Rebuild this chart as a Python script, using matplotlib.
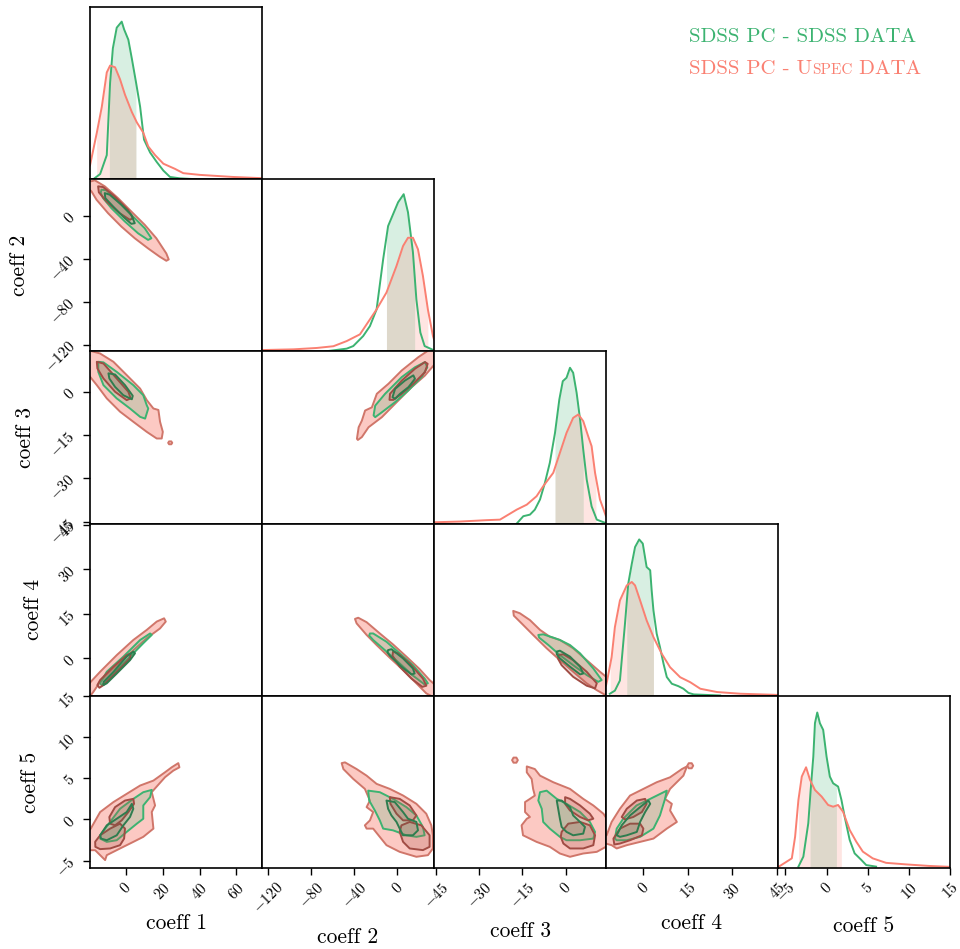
import numpy as np
import matplotlib
matplotlib.use("Agg")
import matplotlib.pyplot as plt
from matplotlib.patches import Polygon
from matplotlib.colors import to_rgba
from matplotlib.offsetbox import TextArea, HPacker, VPacker, AnchoredOffsetbox

plt.rcParams["font.family"] = "serif"
plt.rcParams["font.serif"] = ["cmr10"]
plt.rcParams["mathtext.fontset"] = "cm"
plt.rcParams["axes.formatter.use_mathtext"] = True

GREEN = "#3CB371"
RED = "#FA8072"

labels = ["coeff 1", "coeff 2", "coeff 3", "coeff 4", "coeff 5"]
limits = [(-19.4, 73.9), (-126, 34), (-45.7, 14.0), (-12.6, 45.4), (-5.9, 15.0)]
ticks = [[0, 20, 40, 60], [-120, -80, -40, 0], [-45, -30, -15, 0],
         [0, 15, 30, 45], [-5, 0, 5, 10, 15]]

# 1D marginals (x, relative height)
sdss_x1 = [-17.6, -13.9, -10.3, -8.5, -7.0, -4.9, -2.2, -0.9, 1.4, 3.3, 5.6, 7.8, 9.9, 13.2, 16.8, 20.4, 24.0, 29.4, 38.0]
sdss_h1 = [0.0, 0.03, 0.14, 0.56, 0.76, 0.88, 0.915, 0.87, 0.81, 0.70, 0.56, 0.42, 0.23, 0.155, 0.10, 0.05, 0.013, 0.005, 0.0]
uspec_x1 = [-19.4, -19.0, -15.7, -13.0, -10.3, -8.5, -5.8, -3.1, -0.4, 3.3, 6.0, 9.5, 12.2, 15.9, 20.4, 26.7, 31.2, 40.3, 58.2, 73.9]
uspec_h1 = [0.08, 0.10, 0.27, 0.42, 0.62, 0.66, 0.65, 0.58, 0.49, 0.39, 0.33, 0.27, 0.19, 0.14, 0.09, 0.06, 0.035, 0.025, 0.013, 0.006]

sdss_x2 = [-67.3, -47.2, -41.1, -31.9, -25.6, -19.4, -13.3, -8.7, -2.5, 0.6, 5.8, 9.8, 14.4, 17.6, 21.3, 25.3, 32.7]
sdss_h2 = [0.0, 0.016, 0.031, 0.089, 0.147, 0.244, 0.535, 0.728, 0.82, 0.866, 0.913, 0.808, 0.576, 0.302, 0.11, 0.031, 0.01]
uspec_x2 = [-126, -124.4, -96.7, -75, -59.6, -47.2, -34.9, -28.7, -19.4, -10.2, -0.9, 5.2, 9.8, 14.4, 19.1, 23.7, 28.3, 33.0, 34.0]
uspec_h2 = [0.008, 0.008, 0.012, 0.02, 0.03, 0.06, 0.099, 0.157, 0.244, 0.342, 0.496, 0.612, 0.66, 0.66, 0.593, 0.438, 0.244, 0.09, 0.07]

sdss_x3 = [-17.0, -14.7, -12.4, -10.7, -8.9, -7.2, -5.5, -3.7, -2.2, -1.0, 0.3, 1.5, 2.6, 3.8, 5.0, 6.1, 7.3, 9.0, 10.8, 13.6]
sdss_h3 = [0.0, 0.043, 0.052, 0.081, 0.14, 0.237, 0.353, 0.527, 0.721, 0.827, 0.847, 0.905, 0.876, 0.76, 0.605, 0.43, 0.256, 0.1, 0.023, 0.005]
uspec_x3 = [-45.7, -45.0, -36.7, -27.4, -22.8, -19.3, -17.0, -13.5, -10.1, -7.8, -4.3, -2.0, 0.3, 2.6, 4.4, 6.1, 7.8, 9.0, 10.2, 11.9, 14.0]
uspec_h3 = [0.008, 0.008, 0.012, 0.02, 0.023, 0.058, 0.081, 0.11, 0.159, 0.217, 0.295, 0.411, 0.527, 0.614, 0.634, 0.595, 0.508, 0.45, 0.295, 0.14, 0.043]

sdss_x4 = [-11.3, -9.6, -7.9, -6.2, -5.1, -3.9, -2.8, -1.4, -0.2, 1.1, 2.3, 2.8, 3.4, 4.5, 5.6, 6.8, 7.9, 9.6, 11.8, 13.5, 15.2, 17.0, 25.9]
sdss_h4 = [0.012, 0.03, 0.089, 0.419, 0.651, 0.767, 0.864, 0.908, 0.884, 0.748, 0.729, 0.612, 0.496, 0.36, 0.283, 0.186, 0.109, 0.07, 0.056, 0.041, 0.017, 0.008, 0.002]
uspec_x4 = [-12.6, -12.2, -10.7, -9.6, -7.9, -5.6, -3.9, -2.8, -1.1, 1.1, 3.4, 6.2, 9.0, 12.4, 15.8, 19.2, 24.8, 32.7, 43.9, 45.4]
uspec_h4 = [0.06, 0.089, 0.225, 0.399, 0.554, 0.641, 0.661, 0.641, 0.554, 0.438, 0.341, 0.244, 0.166, 0.108, 0.079, 0.041, 0.022, 0.012, 0.006, 0.005]

sdss_x5 = [-3.42, -2.82, -2.22, -1.93, -1.61, -1.41, -1.13, -0.81, -0.41, 0.0, 0.40, 0.80, 1.40, 1.81, 2.20, 2.81, 3.41, 4.22, 4.82, 6.02]
sdss_h5 = [0.008, 0.066, 0.26, 0.453, 0.647, 0.841, 0.903, 0.841, 0.802, 0.647, 0.531, 0.492, 0.473, 0.395, 0.298, 0.163, 0.085, 0.047, 0.017, 0.008]
uspec_x5 = [-5.9, -5.63, -4.22, -3.82, -3.42, -3.01, -2.49, -2.01, -1.41, -0.60, 0.19, 0.80, 1.40, 2.00, 2.81, 3.61, 4.41, 5.61, 7.23, 9.64, 12.45, 14.86]
uspec_h5 = [0.005, 0.013, 0.056, 0.182, 0.395, 0.531, 0.585, 0.512, 0.453, 0.415, 0.366, 0.356, 0.366, 0.327, 0.221, 0.153, 0.095, 0.056, 0.03, 0.021, 0.012, 0.007]

# shaded summary intervals on the marginals
sdss_band = [(-8.9, 5.5), (-10.2, 16.0), (-3.7, 6.1), (-5.6, 3.4), (-2.0, 1.2)]
uspec_band = [(-15.8, 5.5), (-10.2, 28.3), (-3.7, 10.5), (-11.2, 3.4), (-3.4, 1.8)]

# 2D contours, vertices in data units (x param, y param)
uspec_outer_12 = [[(-21, 33.5), (-18.6, 32.1), (-16.8, 33.0), (-11.4, 27.4), (-4.2, 16.4), (3.0, 4.0), (10.3, -8.4), (16.6, -20.9), (22.0, -35.0), (23.3, -40.6), (22.0, -41.8), (18.4, -38.0), (12.1, -30.3), (4.9, -20.9), (-2.4, -10.0), (-9.6, 2.4), (-15.9, 15.0), (-18.6, 22.7), (-21, 26)]]
sdss_outer_12 = [[(-13.2, 24.3), (-10.5, 23.6), (-4.2, 13.4), (3.0, 0.9), (10.3, -11.6), (13.9, -20.9), (12.1, -22.4), (6.7, -16.3), (-0.5, -5.3), (-7.8, 7.1), (-12.3, 16.4), (-13.6, 21.1)]]
uspec_inner_12 = [[(-15.0, 27.4), (-12.3, 26.7), (-6.0, 18.0), (1.2, 5.6), (4.0, -2.2), (2.2, -3.7), (-3.3, 2.4), (-10.5, 13.4), (-14.6, 21.8)]]
sdss_inner_12 = [[(-11.4, 21.1), (-8.7, 19.6), (-2.4, 10.3), (3.0, 0.9), (4.9, -6.9), (3.0, -7.5), (-1.5, -0.7), (-6.9, 8.7), (-11.1, 16.4)]]

uspec_outer_13 = [[(-21, 14.5), (-14.0, 13.3), (-6.7, 10.4), (0.5, 5.8), (7.8, 1.1), (11.4, -2.9), (15.0, -5.8), (17.7, -6.3), (18.6, -10.4), (20.1, -13.9), (19.5, -16.2), (16.8, -16.2), (11.4, -13.9), (4.1, -10.4), (-3.1, -6.9), (-10.3, -2.3), (-15.7, 2.3), (-21, 6.5)],
                  [(23.0, -17.7), (23.5, -17.2), (24.7, -17.2), (25.2, -17.7), (24.7, -18.2), (23.5, -18.2)]]
sdss_outer_13 = [[(-14.9, 10.4), (-12.1, 10.2), (-4.9, 6.9), (4.1, 2.3), (9.5, -1.2), (11.4, -4.7), (12.2, -5.8), (10.5, -9.3), (7.8, -8.7), (2.3, -5.8), (-4.9, -2.3), (-12.1, 2.3), (-14.9, 6.9)]]
uspec_inner_13 = [[(-15.7, 10.4), (-12.1, 9.8), (-4.9, 4.6), (1.4, 0.0), (2.7, -2.3), (0.5, -2.9), (-5.8, 0.0), (-12.1, 4.6), (-15.4, 8.1)]]
sdss_inner_13 = [[(-9.4, 6.4), (-5.8, 6.0), (-0.4, 2.3), (3.8, -1.4), (3.3, -2.6), (-1.3, -1.2), (-5.8, 1.7), (-8.9, 4.6)]]

uspec_outer_14 = [[(-21, -9.5), (-19.0, -7.9), (-13.9, -4.5), (-4.9, 1.1), (4.1, 6.2), (11.4, 9.6), (16.8, 12.4), (20.8, 13.5), (21.7, 12.4), (18.6, 10.1), (11.4, 6.8), (2.3, 1.7), (-6.7, -3.4), (-13.9, -7.9), (-17.6, -11.3), (-21, -14)]]
sdss_outer_14 = [[(-13.9, -8.4), (-10.3, -4.5), (-1.3, 0.6), (7.8, 6.2), (13.2, 8.4), (14.1, 7.9), (9.5, 5.1), (0.5, -0.6), (-8.5, -6.2), (-13.0, -9.0)]]
uspec_inner_14 = [[(-15.4, -9.0), (-13.9, -7.3), (-6.7, -2.8), (0.5, 1.1), (2.7, 1.7), (2.3, 0.0), (-4.9, -4.5), (-12.1, -9.0), (-14.3, -9.9)]]
sdss_inner_14 = [[(-12.1, -7.9), (-6.7, -4.5), (0.5, 0.6), (4.1, 2.3), (5.0, 1.7), (2.3, -0.6), (-4.9, -5.1), (-10.3, -8.4), (-12.1, -9.0)]]

uspec_outer_15 = [[(-21, -1.6), (-19.0, -1.12), (-13.9, 0.89), (-6.7, 2.10), (0.5, 3.10), (7.8, 4.11), (15.0, 4.71), (21.3, 5.72), (24.9, 6.32), (28.5, 6.83), (29.1, 6.32), (25.8, 5.92), (21.3, 5.12), (14.1, 3.31), (15.9, 1.69), (14.1, 0.89), (15.0, -1.12), (9.5, -2.12), (4.1, -2.73), (-3.1, -3.53), (-10.3, -4.34), (-11.2, -4.94), (-13.9, -4.34), (-16.6, -3.74), (-21, -3.74)]]
sdss_outer_15 = [[(-13.9, -1.93), (-8.5, -0.31), (-3.1, 1.29), (4.1, 2.49), (9.5, 3.30), (14.1, 3.58), (13.2, 2.70), (9.5, 1.69), (9.5, 0.08), (6.0, -0.52), (0.5, -1.52), (-4.9, -2.53), (-10.3, -2.73), (-13.9, -2.33)]]
uspec_inner_15 = [[(-8.9, 0.29), (-5.8, 1.49), (-0.4, 2.29), (4.1, 2.49), (4.5, 1.89), (1.4, 0.89), (-2.2, -0.12), (-5.8, -0.72), (-8.5, -0.52)],
                  [(-16.6, -2.72), (-13.9, -1.93), (-8.5, -1.12), (-3.1, -0.52), (-0.4, -1.12), (-0.9, -2.33), (-3.1, -3.13), (-8.5, -3.53), (-13.9, -3.61), (-16.5, -3.33)]]
sdss_inner_15 = [[(-13.9, -1.93), (-10.3, -0.72), (-4.9, 0.08), (0.5, 0.89), (3.3, 1.89), (4.1, 1.29), (2.3, 0.29), (-1.3, -0.72), (-4.9, -1.93), (-10.3, -2.53), (-13.4, -2.33)]]

uspec_outer_23 = [[(-37.7, -16.3), (-36.1, -12.3), (-33.1, -10.0), (-30.1, -6.5), (-23.8, -5.4), (-19.2, -0.7), (-8.3, 2.8), (4.0, 7.4), (19.4, 12.0), (28.6, 14.3), (35, 15), (35, 9.7), (25.5, 5.6), (13.2, 1.6), (-2.3, -4.2), (-14.5, -8.8), (-26.9, -12.3), (-33.1, -15.7), (-36.8, -16.7)]]
sdss_outer_23 = [[(-22.2, -8.2), (-20.7, -4.8), (-11.5, -0.7), (4.0, 5.1), (16.3, 8.5), (25.6, 10.3), (27.8, 8.5), (22.5, 5.1), (10.2, 0.5), (-2.2, -3.6), (-14.5, -7.1), (-20.7, -8.8)]]
uspec_inner_23 = [[(-7.4, -2.8), (-6.9, -0.7), (4.0, 3.9), (16.3, 8.0), (25.6, 10.3), (28.1, 9.7), (25.6, 6.8), (14.8, 2.8), (4.0, -0.7), (-3.7, -2.8)]]
sdss_inner_23 = [[(-4.6, -1.9), (-2.2, 1.0), (7.0, 3.9), (14.8, 5.7), (16.3, 4.5), (10.2, 1.6), (2.4, -0.7), (-2.2, -2.4)]]

uspec_outer_24 = [[(-39.5, 13.3), (-36.5, 13.7), (-28.7, 12.2), (-16.4, 8.4), (-4.1, 4.7), (8.3, 0.6), (20.6, -3.6), (29.9, -7.3), (36, -9.2), (36, -13.5), (26.9, -11.8), (17.6, -8.4), (5.2, -3.9), (-7.1, 0.2), (-19.4, 4.5), (-28.7, 7.9), (-38.0, 11.8)]]
sdss_outer_24 = [[(-25.6, 8.4), (-22.6, 8.4), (-10.2, 5.6), (2.1, 1.7), (14.4, -2.3), (25.3, -6.8), (28.3, -8.4), (25.3, -8.8), (14.4, -5.8), (2.1, -1.7), (-10.2, 2.3), (-22.6, 6.2), (-26.3, 7.7)]]
uspec_inner_24 = [[(-4.1, 2.3), (0.6, 1.7), (11.4, -1.7), (23.7, -6.8), (26.9, -9.2), (23.1, -9.6), (13.0, -6.8), (2.1, -2.8), (-4.6, 0.9)]]
sdss_inner_24 = [[(-8.7, 2.8), (-5.6, 3.1), (5.2, 0.0), (14.4, -3.4), (16.0, -5.1), (13.0, -5.4), (3.7, -2.8), (-7.1, 0.9), (-9.3, 2.0)]]

uspec_outer_25 = [[(-51.9, 6.83), (-48.8, 6.92), (-38.0, 6.11), (-28.7, 5.31), (-19.4, 4.31), (-7.1, 3.70), (5.2, 2.90), (17.6, 1.89), (26.8, 0.69), (31.5, -0.72), (33.0, -1.93), (33.0, -3.53), (28.4, -4.34), (17.6, -4.54), (2.1, -3.94), (-10.2, -3.13), (-16.4, -2.13), (-22.6, -1.12), (-28.7, -1.12), (-30.3, -0.72), (-25.6, -0.12), (-22.6, 0.89), (-28.7, 1.49), (-25.6, 2.29), (-30.3, 3.70), (-41.1, 4.91), (-50.3, 6.11)]]
sdss_outer_25 = [[(-27.2, 3.49), (-16.4, 3.30), (-4.1, 2.49), (8.3, 1.49), (17.6, 0.48), (23.7, -0.92), (25.3, -1.93), (17.6, -2.12), (8.3, -1.93), (-4.1, -1.33), (-13.3, -1.12), (-16.4, -0.12), (-21.0, 1.08), (-26.3, 2.29)]]
uspec_inner_25 = [[(-7.1, 2.70), (2.1, 2.49), (11.4, 1.69), (17.6, 0.48), (14.4, -0.12), (5.2, -0.12), (-0.9, 0.69), (-6.5, 1.89)],
                  [(3.7, -0.72), (11.4, -0.31), (22.2, -0.72), (29.9, -1.93), (29.9, -3.33), (23.7, -3.73), (11.4, -3.53), (5.2, -2.72), (2.1, -1.52)]]
sdss_inner_25 = [[(-10.2, 2.29), (-2.5, 2.10), (5.2, 0.89), (9.8, 0.08), (17.6, -0.31), (19.1, -1.33), (14.4, -1.93), (5.2, -1.93), (2.1, -1.12), (-0.9, -0.31), (-5.6, 0.48), (-8.7, 1.29)]]

uspec_outer_34 = [[(-18.2, 16.0), (-15.9, 15.2), (-12.4, 12.9), (-8.9, 9.6), (-5.5, 7.3), (-2.0, 6.2), (2.6, 3.4), (7.3, -0.6), (11.9, -4.5), (14.8, -6.8), (14.8, -12.9), (10.8, -10.7), (7.3, -8.4), (2.6, -4.5), (-2.0, -0.6), (-6.6, 3.4), (-11.3, 7.9), (-15.3, 11.8), (-18.0, 14.4)]]
sdss_outer_34 = [[(-9.5, 7.9), (-7.8, 8.1), (-4.3, 7.0), (-2.0, 6.2), (1.5, 4.5), (5.0, 1.7), (9.6, -3.4), (12.5, -7.3), (11.3, -7.9), (7.3, -5.6), (2.6, -2.3), (-2.0, 1.1), (-6.0, 4.5), (-9.2, 7.0)]]
uspec_inner_34 = [[(-2.6, 1.1), (-0.8, 1.4), (2.6, -0.6), (7.3, -4.5), (10.8, -8.4), (10.2, -10.1), (7.3, -9.2), (2.6, -6.2), (-1.4, -2.3), (-2.6, -0.2)]]
sdss_inner_34 = [[(-3.1, 2.3), (-2.0, 2.6), (1.5, 0.6), (5.0, -2.8), (6.1, -5.1), (5.0, -5.4), (1.5, -2.8), (-2.0, 0.0), (-3.1, 1.4)]]

uspec_outer_35 = [[(-13.5, 6.43), (-10.7, 6.11), (-8.9, 5.31), (-4.3, 4.51), (1.5, 3.70), (6.1, 2.49), (9.6, 1.69), (13.1, 0.69), (15, -0.31), (15, -3.13), (10.8, -3.94), (6.1, -4.14), (1.5, -4.54), (-2.0, -4.14), (-5.5, -3.33), (-10.1, -2.73), (-14.8, -1.93), (-15.3, -0.72), (-13.5, 0.08), (-12.4, 0.29), (-14.1, 0.89), (-14.1, 2.10), (-12.4, 2.49), (-10.7, 2.89), (-11.3, 3.70), (-11.8, 4.90), (-13.5, 5.71)],
                  [(-18.6, 7.19), (-18.1, 7.5), (-17.1, 7.5), (-16.6, 7.19), (-17.1, 6.88), (-18.1, 6.88)]]
sdss_outer_35 = [[(-8.9, 3.30), (-6.6, 3.49), (-3.1, 2.49), (0.3, 1.89), (5.0, 0.89), (8.4, -0.31), (10.2, -1.52), (9.6, -2.33), (5.0, -2.53), (0.3, -2.53), (-2.0, -2.12), (-5.5, -1.12), (-7.8, -0.31), (-8.3, 1.29), (-9.5, 2.29)]]
uspec_inner_35 = [[(-0.2, 2.70), (1.5, 2.49), (5.0, 1.69), (8.4, 0.69), (9.6, 0.08), (7.8, -0.12), (5.0, 0.29), (1.5, 1.08), (-0.2, 1.89)],
                  [(-1.4, -1.52), (0.9, -0.52), (5.0, -0.31), (8.4, -0.72), (10.2, -1.93), (9.6, -3.13), (6.1, -3.53), (1.5, -3.53), (-0.8, -2.93), (-1.7, -2.12)]]
sdss_inner_35 = [[(-3.1, 2.29), (-1.4, 2.29), (1.5, 1.49), (2.6, 0.48), (5.0, -0.31), (6.7, -0.92), (6.1, -1.73), (2.6, -1.93), (0.3, -1.52), (-1.4, -0.92), (-2.0, 0.08), (-2.6, 1.29)]]

uspec_outer_45 = [[(-13, -1.93), (-12.4, -1.93), (-10.7, -0.31), (-7.9, 1.29), (-4.5, 2.89), (0.0, 3.70), (4.5, 4.51), (9.0, 5.11), (13.0, 6.11), (14.7, 6.43), (13.5, 5.31), (9.0, 3.70), (7.3, 2.49), (9.6, 1.89), (9.0, 1.08), (11.3, -0.31), (7.9, -1.12), (3.4, -2.33), (-1.1, -2.73), (-5.6, -3.13), (-9.0, -3.53), (-10.7, -3.13), (-13, -2.9)],
                  [(14.8, 6.51), (15.3, 6.82), (16.3, 6.82), (16.8, 6.51), (16.3, 6.2), (15.3, 6.2)]]
sdss_outer_45 = [[(-9.6, -2.33), (-9.0, -1.12), (-6.8, 0.08), (-2.3, 1.69), (2.3, 2.49), (7.9, 3.49), (7.3, 2.49), (5.6, 0.48), (3.4, -1.12), (-1.1, -2.12), (-5.6, -2.53), (-9.0, -2.53)]]
uspec_inner_45 = [[(-7.3, 0.29), (-5.6, 1.29), (-2.2, 2.29), (0.6, 2.49), (1.1, 1.89), (-0.5, 0.89), (-3.4, 0.29), (-6.2, 0.0)],
                  [(-10.1, -2.33), (-7.9, -1.12), (-4.5, -0.52), (-1.1, -0.52), (0.0, -1.12), (-0.5, -1.93), (-4.5, -2.53), (-7.9, -2.93), (-9.8, -3.05)]]
sdss_inner_45 = [[(-9.0, -1.93), (-7.3, -0.72), (-4.5, 0.48), (-1.1, 1.49), (1.7, 2.29), (2.3, 1.89), (0.6, 0.89), (-1.1, -0.31), (-2.2, -1.52), (-5.6, -1.93), (-7.9, -2.12)]]

marginals = [
    (sdss_x1, sdss_h1, uspec_x1, uspec_h1),
    (sdss_x2, sdss_h2, uspec_x2, uspec_h2),
    (sdss_x3, sdss_h3, uspec_x3, uspec_h3),
    (sdss_x4, sdss_h4, uspec_x4, uspec_h4),
    (sdss_x5, sdss_h5, uspec_x5, uspec_h5),
]
contours = {
    (0, 1): (uspec_outer_12, sdss_outer_12, uspec_inner_12, sdss_inner_12),
    (0, 2): (uspec_outer_13, sdss_outer_13, uspec_inner_13, sdss_inner_13),
    (0, 3): (uspec_outer_14, sdss_outer_14, uspec_inner_14, sdss_inner_14),
    (0, 4): (uspec_outer_15, sdss_outer_15, uspec_inner_15, sdss_inner_15),
    (1, 2): (uspec_outer_23, sdss_outer_23, uspec_inner_23, sdss_inner_23),
    (1, 3): (uspec_outer_24, sdss_outer_24, uspec_inner_24, sdss_inner_24),
    (1, 4): (uspec_outer_25, sdss_outer_25, uspec_inner_25, sdss_inner_25),
    (2, 3): (uspec_outer_34, sdss_outer_34, uspec_inner_34, sdss_inner_34),
    (2, 4): (uspec_outer_35, sdss_outer_35, uspec_inner_35, sdss_inner_35),
    (3, 4): (uspec_outer_45, sdss_outer_45, uspec_inner_45, sdss_inner_45),
}

# face colour, edge colour for: uspec outer, sdss outer, uspec inner, sdss inner
styles = [
    (to_rgba(RED, 0.42), "#D0766A"),
    (to_rgba(GREEN, 0.2), GREEN),
    (to_rgba("#B0584C", 0.25), "#A14C44"),
    (to_rgba("#2E7D4F", 0.12), "#2E7D4F"),
]


def shade_band(ax, xs, hs, band, color):
    lo, hi = band
    fx = [lo] + [x for x in xs if lo < x < hi] + [hi]
    fh = [np.interp(lo, xs, hs)] + [h for x, h in zip(xs, hs) if lo < x < hi] + [np.interp(hi, xs, hs)]
    ax.fill_between(fx, 0, fh, color=color, alpha=0.2, lw=0)


fig, axes = plt.subplots(5, 5, figsize=(9.6, 9.49), dpi=100)
fig.subplots_adjust(left=90 / 960, right=950 / 960, bottom=1 - 868 / 949, top=1 - 7 / 949,
                    wspace=0, hspace=0)

for i in range(5):
    for j in range(5):
        ax = axes[i, j]
        if j > i:
            ax.axis("off")
            continue
        ax.set_xlim(limits[j])
        if i == j:
            gx, gh, rx, rh = marginals[i]
            shade_band(ax, gx, gh, sdss_band[i], GREEN)
            shade_band(ax, rx, rh, uspec_band[i], RED)
            ax.plot(gx, gh, color=GREEN, lw=1.4)
            ax.plot(rx, rh, color=RED, lw=1.4)
            ax.set_ylim(0, 1)
        else:
            ax.set_ylim(limits[i])
            for group, (fc, ec) in zip(contours[(j, i)], styles):
                for verts in group:
                    ax.add_patch(Polygon(verts, closed=True, facecolor=fc, edgecolor=ec,
                                         lw=1.4, joinstyle="round"))
        if i == 4:
            ax.set_xticks(ticks[j])
            ax.set_xlabel(labels[j], fontsize=15.5, labelpad=8)
            for t in ax.get_xticklabels():
                t.set_rotation(45)
        else:
            ax.set_xticks([])
        if j == 0 and i > 0:
            ax.set_yticks(ticks[i])
            ax.set_ylabel(labels[i], fontsize=15.5, labelpad=9)
            for t in ax.get_yticklabels():
                t.set_rotation(45)
        else:
            ax.set_yticks([])
        ax.tick_params(labelsize=11, width=1.0, length=5)
        for s in ax.spines.values():
            s.set_linewidth(1.2)

# legend-like labels in the top-right corner
line1 = TextArea("SDSS PC - SDSS DATA", textprops=dict(color=GREEN, fontsize=15))
line2 = HPacker(children=[
    TextArea("SDSS PC - U", textprops=dict(color=RED, fontsize=15)),
    TextArea("SPEC", textprops=dict(color=RED, fontsize=11)),
    TextArea(" DATA", textprops=dict(color=RED, fontsize=15)),
], align="baseline", pad=0, sep=0)
box = VPacker(children=[line1, line2], align="left", pad=0, sep=10)
legend = AnchoredOffsetbox(loc="upper left", child=box, pad=0, borderpad=0, frameon=False,
                           bbox_to_anchor=(689 / 960, 1 - 28 / 949),
                           bbox_transform=fig.transFigure)
fig.add_artist(legend)

fig.savefig("out.png", dpi=100)
